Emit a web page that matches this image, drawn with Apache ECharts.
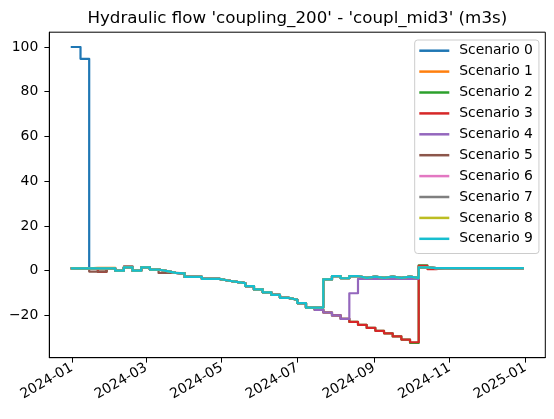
<!DOCTYPE html>
<html>
<head>
<meta charset="utf-8">
<script src="https://cdn.jsdelivr.net/npm/echarts@6/dist/echarts.min.js"></script>
<style>html,body{margin:0;padding:0;background:#fff;}#chart{width:554px;height:419px;}</style>
</head>
<body>
<div id="chart"></div>
<script>
const titleText = "Hydraulic flow 'coupling_200' - 'coupl_mid3' (m3s)";
const weeks = [
  '2024-01-01','2024-01-08','2024-01-15','2024-01-22','2024-01-29',
  '2024-02-05','2024-02-12','2024-02-19','2024-02-26',
  '2024-03-04','2024-03-11','2024-03-18','2024-03-25',
  '2024-04-01','2024-04-08','2024-04-15','2024-04-22','2024-04-29',
  '2024-05-06','2024-05-13','2024-05-20','2024-05-27',
  '2024-06-03','2024-06-10','2024-06-17','2024-06-24',
  '2024-07-01','2024-07-08','2024-07-15','2024-07-22','2024-07-29',
  '2024-08-05','2024-08-12','2024-08-19','2024-08-26',
  '2024-09-02','2024-09-09','2024-09-16','2024-09-23','2024-09-30',
  '2024-10-07','2024-10-14','2024-10-21','2024-10-28',
  '2024-11-04','2024-11-11','2024-11-18','2024-11-25',
  '2024-12-02','2024-12-09','2024-12-16','2024-12-23','2024-12-30'
];
const scenarioNames = ['Scenario 0','Scenario 1','Scenario 2','Scenario 3','Scenario 4','Scenario 5','Scenario 6','Scenario 7','Scenario 8','Scenario 9'];
const xTickLabels = ['2024-01-01','2024-03-01','2024-05-01','2024-07-01','2024-09-01','2024-11-01','2025-01-01'];
const yTickValues = [-20, 0, 20, 40, 60, 80, 100];

const scenario0 = [100,94.7,1.0,1.0,1.0, 0.0,1.5,0.0,1.5, 0.5,-0.2,-1.0,-1.2, -2.8,-2.8,-3.7,-3.7,-4.4, -5.0,-5.6,-6.9,-8.4, -9.7,-10.8,-12.2,-13.0, -14.5,-16.5,-16.5,-3.9,-2.4, -3.4,-2.4,-3.2,-2.7, -3.2,-2.7,-3.2,-2.7,-3.2, 1.5,1.1,1.1,1.1, 1.1,1.1,1.1,1.1, 1.1,1.1,1.1,1.1,1.1];
const scenario1 = [1.0,1.0,1.3,1.3,1.3, 0.0,1.5,0.0,1.5, 0.5,-0.2,-1.0,-1.2, -2.8,-2.8,-3.7,-3.7,-4.4, -5.0,-5.6,-6.9,-8.4, -9.7,-10.8,-12.2,-13.0, -14.5,-16.5,-16.5,-3.9,-2.4, -3.4,-2.4,-3.2,-2.7, -3.2,-2.7,-3.2,-2.7,-3.2, 1.5,1.1,1.1,1.1, 1.1,1.1,1.1,1.1, 1.1,1.1,1.1,1.1,1.1];
const scenario2 = [1.0,1.0,1.0,-0.5,1.0, 0.0,1.5,0.0,1.5, 0.5,-0.2,-1.0,-1.2, -2.8,-2.8,-3.7,-3.7,-4.4, -5.0,-5.6,-6.9,-8.4, -9.7,-10.8,-12.2,-13.0, -14.5,-16.5,-17.5,-18.7,-20.0, -21.5,-22.9,-24.2,-25.6, -26.9,-28.0,-29.4,-30.8,-32.3, 2.4,1.1,1.1,1.1, 1.1,1.1,1.1,1.1, 1.1,1.1,1.1,1.1,1.1];
const scenario3 = [1.0,1.0,1.0,-0.5,1.0, 0.0,1.5,0.0,1.5, 0.5,-0.2,-1.0,-1.2, -2.8,-2.8,-3.7,-3.7,-4.4, -5.0,-5.6,-6.9,-8.4, -9.7,-10.8,-12.2,-13.0, -14.5,-16.5,-17.5,-18.7,-20.0, -21.5,-22.9,-24.2,-25.6, -26.9,-28.0,-29.4,-30.8,-32.0, 2.2,0.7,1.1,1.1, 1.1,1.1,1.1,1.1, 1.1,1.1,1.1,1.1,1.1];
const scenario4 = [1.0,1.0,1.0,1.0,1.0, 0.0,1.5,0.0,1.5, 0.5,-0.2,-1.0,-1.6, -2.8,-2.8,-3.7,-3.7,-4.4, -5.0,-5.6,-6.9,-8.4, -9.7,-10.8,-12.2,-13.0, -14.5,-16.5,-17.5,-18.7,-20.0, -21.6,-10.1,-3.7,-3.7, -3.7,-3.7,-3.7,-3.7,-3.7, 1.5,1.1,1.1,1.1, 1.1,1.1,1.1,1.1, 1.1,1.1,1.1,1.1,1.1];
const scenario5 = [1.0,1.0,-0.4,-0.4,1.0, 0.0,1.9,0.0,1.5, 0.5,-1.0,-1.0,-1.2, -2.8,-2.8,-3.7,-3.7,-4.4, -5.0,-5.6,-6.9,-8.4, -9.7,-10.8,-12.2,-13.0, -14.5,-16.5,-16.5,-3.9,-2.4, -3.4,-2.4,-3.2,-2.7, -3.2,-2.7,-3.2,-2.7,-3.2, 1.5,1.1,1.1,1.1, 1.1,1.1,1.1,1.1, 1.1,1.1,1.1,1.1,1.1];
const scenario6 = [1.0,1.0,1.0,1.0,1.0, 0.0,1.5,0.0,1.5, 0.5,-0.2,-1.0,-1.2, -2.8,-2.8,-3.7,-3.7,-4.4, -5.0,-5.6,-6.9,-8.4, -9.7,-10.8,-12.2,-13.0, -14.5,-16.5,-16.5,-3.9,-2.4, -3.4,-2.4,-3.2,-2.7, -3.2,-2.7,-3.2,-2.7,-3.2, 1.5,1.1,1.1,1.1, 1.1,1.1,1.1,1.1, 1.1,1.1,1.1,1.1,1.1];
const scenario7 = [1.0,1.0,1.0,1.0,1.0, 0.0,1.5,0.0,1.5, 0.5,-0.2,-1.0,-1.2, -2.8,-2.8,-3.7,-3.7,-4.4, -5.0,-5.6,-6.9,-8.4, -9.7,-10.8,-12.2,-13.0, -14.5,-16.5,-16.5,-3.9,-2.4, -3.4,-2.4,-3.2,-2.7, -3.2,-2.7,-3.2,-2.7,-3.2, 1.5,1.1,1.1,1.1, 1.1,1.1,1.1,1.1, 1.1,1.1,1.1,1.1,1.1];
const scenario8 = [1.0,1.0,1.0,1.0,1.0, 0.0,1.5,0.0,1.5, 0.5,-0.2,-1.0,-1.2, -2.8,-2.8,-3.7,-3.7,-4.4, -5.0,-5.6,-6.9,-8.4, -9.7,-10.8,-12.2,-13.0, -14.5,-16.5,-16.5,-3.9,-2.4, -3.4,-2.4,-3.2,-2.7, -3.2,-2.7,-3.2,-2.7,-3.2, 1.5,1.1,1.1,1.1, 1.1,1.1,1.1,1.1, 1.1,1.1,1.1,1.1,1.1];
const scenario9 = [1.0,1.0,1.0,1.0,1.0, 0.0,1.5,0.0,1.5, 0.5,-0.2,-1.0,-1.2, -2.8,-2.8,-3.7,-3.7,-4.4, -5.0,-5.6,-6.9,-8.4, -9.7,-10.8,-12.2,-13.0, -14.5,-16.5,-16.5,-3.9,-2.4, -3.4,-2.4,-3.2,-2.7, -3.2,-2.7,-3.2,-2.7,-3.2, 1.5,1.1,1.1,1.1, 1.1,1.1,1.1,1.1, 1.1,1.1,1.1,1.1,1.1];

const allScenarios = [scenario0,scenario1,scenario2,scenario3,scenario4,scenario5,scenario6,scenario7,scenario8,scenario9];
const colors = ['#1f77b4','#ff7f0e','#2ca02c','#d62728','#9467bd','#8c564b','#e377c2','#7f7f7f','#bcbd22','#17becf'];

function parseDay(s) { const p = s.split('-').map(Number); return new Date(p[0], p[1]-1, p[2]).getTime(); }
const t0 = parseDay(weeks[0]);
const t1 = parseDay(weeks[weeks.length-1]);
const xPad = (t1 - t0) * 0.05;

let yMin = Infinity, yMax = -Infinity;
allScenarios.forEach(a => a.forEach(v => { yMin = Math.min(yMin, v); yMax = Math.max(yMax, v); }));
const yPad = (yMax - yMin) * 0.05;

const FONT = 'DejaVu Sans';
const chart = echarts.init(document.getElementById('chart'), null, {renderer: 'canvas'});
chart.setOption({
  animation: false,
  backgroundColor: '#ffffff',
  color: colors,
  graphic: [{
    type: 'text', x: 297.3, y: 18.5,
    style: {text: titleText, fill: '#000', font: '16.7px "DejaVu Sans"', align: 'center', verticalAlign: 'middle'}
  }],
  grid: {left: 49.3, right: 8.7, top: 32.2, bottom: 61.3, show: true, borderColor: '#000', borderWidth: 1, backgroundColor: 'transparent', outerBoundsMode: 'none'},
  legend: {
    orient: 'vertical', left: 414.7, top: 40,
    padding: [2.7, 6, 6.7, 4.6],
    itemGap: 4.9, itemWidth: 30, itemHeight: 2.5, icon: 'rect',
    backgroundColor: 'rgba(255,255,255,0.8)', borderColor: '#cccccc', borderWidth: 1, borderRadius: 3,
    textStyle: {fontFamily: FONT, fontSize: 13.9, color: '#000', lineHeight: 16, padding: [0,0,0,5]},
    data: scenarioNames
  },
  xAxis: {
    type: 'value', min: t0 - xPad, max: t1 + xPad,
    splitLine: {show: false},
    axisLine: {show: true, onZero: false, lineStyle: {color: '#000', width: 1}},
    axisTick: {show: true, length: 4.9, lineStyle: {color: '#000', width: 1}, customValues: xTickLabels.map(parseDay)},
    axisLabel: {
      customValues: xTickLabels.map(parseDay), rotate: 30, margin: 9,
      fontFamily: FONT, fontSize: 13.9, color: '#000',
      formatter: function (v) { const d = new Date(v); return d.getFullYear() + '-' + String(d.getMonth()+1).padStart(2,'0'); }
    }
  },
  yAxis: {
    type: 'value', min: yMin - yPad, max: yMax + yPad,
    splitLine: {show: false},
    axisLine: {show: true, onZero: false, lineStyle: {color: '#000', width: 1}},
    axisTick: {show: true, length: 4.9, lineStyle: {color: '#000', width: 1}, customValues: yTickValues},
    axisLabel: {
      customValues: yTickValues, margin: 11,
      fontFamily: FONT, fontSize: 13.9, color: '#000',
      formatter: function (v) { return String(v).replace('-', '\u2212'); }
    }
  },
  series: scenarioNames.map((name, i) => ({
    name: name, type: 'line', step: 'end', symbol: 'none', showSymbol: false,
    data: weeks.map((d, k) => [parseDay(d), allScenarios[i][k]]),
    lineStyle: {width: 2.2, color: colors[i], join: 'round', cap: 'square'},
    itemStyle: {color: colors[i]},
    emphasis: {disabled: true}
  }))
});
</script>
</body>
</html>
